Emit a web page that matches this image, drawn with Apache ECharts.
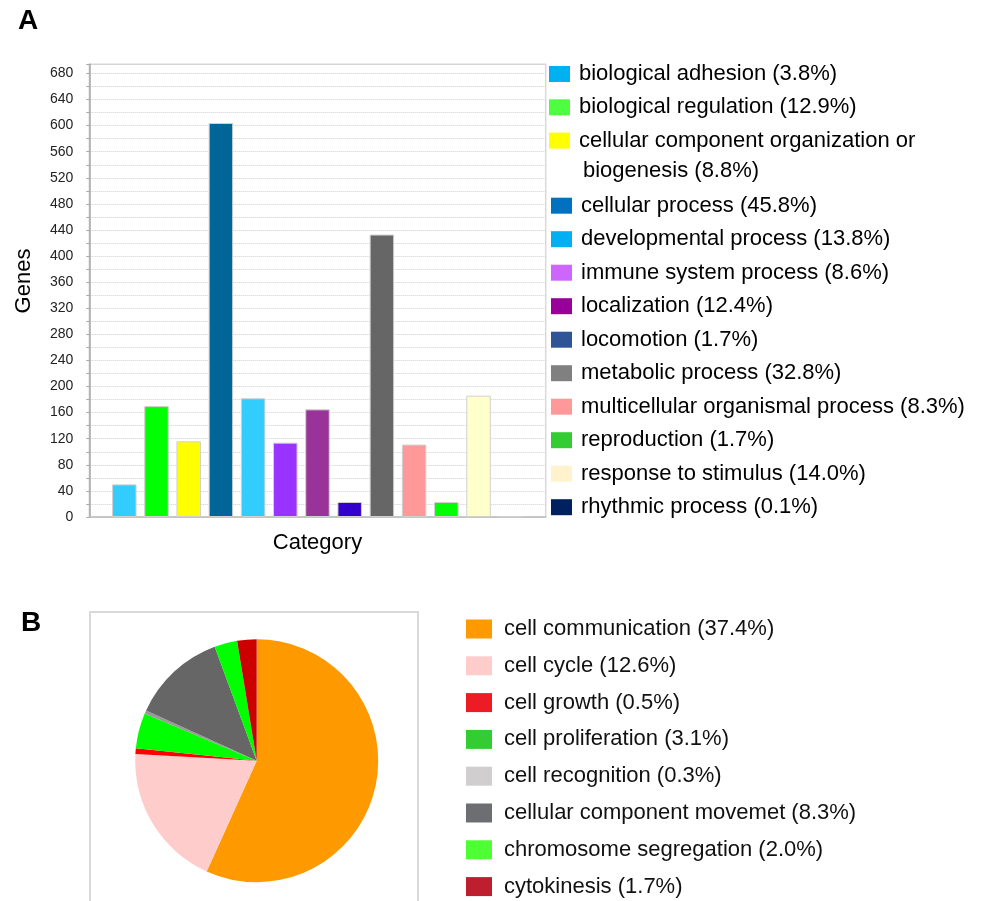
<!DOCTYPE html>
<html>
<head>
<meta charset="utf-8">
<script src="https://cdn.jsdelivr.net/npm/echarts/dist/echarts.min.js"></script>
<style>
html,body{margin:0;padding:0;background:#fff;}
#chart{width:982px;height:901px;}
</style>
</head>
<body>
<div id="chart"></div>
<script>
// ---------- Panel A data (biological process) ----------
const bpCategories = [
  'biological adhesion',
  'biological regulation',
  'cellular component organization or biogenesis',
  'cellular process',
  'developmental process',
  'immune system process',
  'localization',
  'locomotion',
  'metabolic process',
  'multicellular organismal process',
  'reproduction',
  'response to stimulus',
  'rhythmic process'
];
const bpGenes = [50, 170, 116, 604, 182, 114, 165, 23, 433, 111, 23, 186, 1];
const bpPercent = [3.8, 12.9, 8.8, 45.8, 13.8, 8.6, 12.4, 1.7, 32.8, 8.3, 1.7, 14.0, 0.1];
const bpBarColors = ['#33CCFF', '#00FF00', '#FFFF00', '#006699', '#33CCFF', '#9933FF', '#993399',
                     '#3300CC', '#666666', '#FF9999', '#00FF00', '#FFFFCC', '#A6A6A6'];
const bpLegendColors = ['#00B0F0', '#4DFF3F', '#FFFF00', '#0070C0', '#00B0F0', '#CC66FF', '#990099',
                        '#2F5597', '#808080', '#FF9999', '#33CC33', '#FFF2CC', '#002060'];
const yTickLabels = [0, 40, 80, 120, 160, 200, 240, 280, 320, 360, 400, 440, 480, 520, 560, 600, 640, 680];

// ---------- Panel B data (cellular process subcategories) ----------
const ccCategories = [
  'cell communication',
  'cell cycle',
  'cell growth',
  'cell proliferation',
  'cell recognition',
  'cellular component movemet',
  'chromosome segregation',
  'cytokinesis'
];
const ccPercent = [37.4, 12.6, 0.5, 3.1, 0.3, 8.3, 2.0, 1.7];
const ccSliceColors = ['#FF9900', '#FFCCCC', '#FF0000', '#00FF00', '#999999', '#666666', '#00FF00', '#CC0000'];
const ccLegendColors = ['#FF9900', '#FFCCCC', '#ED1C24', '#33CC33', '#D0CECE', '#6D6E71', '#4DFF33', '#BE1E2D'];

// ---------- build ----------
const FONT = '"Liberation Sans", Arial, Helvetica, sans-serif';
const wrapName = 'cellular component organization or biogenesis';

function bpLabel(name) {
  const i = bpCategories.indexOf(name);
  if (name === wrapName) return 'cellular component organization or';
  return name + ' (' + bpPercent[i].toFixed(1) + '%)';
}
function ccLabel(name) {
  const i = ccCategories.indexOf(name);
  return name + ' (' + ccPercent[i].toFixed(1) + '%)';
}

const legendText = {fontFamily: FONT, fontSize: 22, lineHeight: 22, color: '#000', padding: [0, 0, 0, 4]};

const barSeries = bpCategories.map((name, i) => ({
  name: name,
  type: 'bar',
  xAxisIndex: 1,
  yAxisIndex: 1,
  barWidth: 24.5,
  barGap: '-100%',
  data: bpGenes.map((v, j) => (j === i ? v : null)),
  itemStyle: {color: bpBarColors[i], borderColor: '#D0D0D0', borderWidth: 1},
  emphasis: {disabled: true},
  animation: false
}));

const pieSeries = {
  type: 'pie',
  center: [256.7, 760.7],
  radius: 121.5,
  startAngle: 90,
  clockwise: true,
  label: {show: false},
  labelLine: {show: false},
  emphasis: {disabled: true},
  animation: false,
  itemStyle: {borderWidth: 0},
  data: ccCategories.map((n, i) => ({name: n, value: ccPercent[i], itemStyle: {color: ccSliceColors[i]}}))
};

const option = {
  backgroundColor: '#fff',
  animation: false,
  textStyle: {fontFamily: FONT},
  grid: [
    {left: 89.3, right: 982 - 545.7, top: 64.3, bottom: 901 - 517, show: true,
     borderColor: '#D9D9D9', borderWidth: 1.5, backgroundColor: 'transparent', outerBoundsMode: 'none', containLabel: false},
    {left: 108.2, right: 982 - 526.8, top: 64.3, bottom: 901 - 517, outerBoundsMode: 'none', containLabel: false}
  ],
  xAxis: [
    {gridIndex: 0, type: 'value', min: 0, max: 1,
     axisLine: {show: true, lineStyle: {color: '#BFBFBF', width: 1.5}},
     axisTick: {show: false}, axisLabel: {show: false}, splitLine: {show: false},
     name: 'Category', nameLocation: 'middle', nameGap: 15,
     nameTextStyle: {fontFamily: FONT, fontSize: 22, color: '#000'}},
    {gridIndex: 1, type: 'category', data: bpCategories,
     axisLine: {show: false}, axisTick: {show: false}, axisLabel: {show: false}, splitLine: {show: false}}
  ],
  yAxis: [
    {gridIndex: 0, type: 'value', min: 0, max: 694, interval: 20,
     axisLine: {show: true, lineStyle: {color: '#A6A6A6', width: 1.5}},
     axisTick: {show: true, length: 3, lineStyle: {color: '#A6A6A6'}},
     axisLabel: {margin: 16, fontFamily: FONT, fontSize: 14, color: '#222',
                 formatter: v => (yTickLabels.indexOf(v) >= 0 ? String(v) : '')},
     splitLine: {show: true, lineStyle: {color: '#D0D0D0', type: 'dotted', width: 1}}},
    {gridIndex: 1, type: 'value', min: 0, max: 694, interval: 20, show: false,
     splitLine: {show: false}}
  ],
  legend: [
    {orient: 'vertical', left: 549, top: 63, padding: 0, itemGap: 11.3,
     itemWidth: 21, itemHeight: 16, icon: 'rect', selectedMode: false,
     textStyle: legendText, formatter: bpLabel,
     data: bpCategories.slice(0, 3).map((n, k) => ({name: n, icon: 'rect', itemStyle: {color: bpLegendColors[k], borderWidth: 0}}))},
    {orient: 'vertical', left: 551, top: 194.7, padding: 0, itemGap: 11.5,
     itemWidth: 21, itemHeight: 16, icon: 'rect', selectedMode: false,
     textStyle: legendText, formatter: bpLabel,
     data: bpCategories.slice(3).map((n, k) => ({name: n, icon: 'rect', itemStyle: {color: bpLegendColors[k + 3], borderWidth: 0}}))},
    {orient: 'vertical', left: 466, top: 618, padding: 0, itemGap: 14.8,
     itemWidth: 26, itemHeight: 19, icon: 'rect', selectedMode: false,
     textStyle: {fontFamily: FONT, fontSize: 22, lineHeight: 22, color: '#111', padding: [0, 0, 0, 7]},
     formatter: ccLabel,
     data: ccCategories.map((n, k) => ({name: n, icon: 'rect', itemStyle: {color: ccLegendColors[k], borderWidth: 0}}))}
  ],
  graphic: [
    {type: 'text', x: 18, y: 21, style: {text: 'A', font: 'bold 28px ' + FONT, fill: '#000',
      textAlign: 'left', textVerticalAlign: 'middle', align: 'left', verticalAlign: 'middle'}},
    {type: 'text', x: 21, y: 623, style: {text: 'B', font: 'bold 28px ' + FONT, fill: '#000',
      textAlign: 'left', textVerticalAlign: 'middle', align: 'left', verticalAlign: 'middle'}},
    {type: 'text', x: 24, y: 281, rotation: Math.PI / 2, style: {text: 'Genes', font: '22px ' + FONT, fill: '#000',
      textAlign: 'center', textVerticalAlign: 'middle', align: 'center', verticalAlign: 'middle'}},
    {type: 'text', x: 583, y: 171, style: {text: 'biogenesis (' + bpPercent[2].toFixed(1) + '%)', font: '22px ' + FONT, fill: '#000',
      textAlign: 'left', textVerticalAlign: 'middle', align: 'left', verticalAlign: 'middle'}},
    {type: 'rect', shape: {x: 90, y: 612, width: 328, height: 330}, z: -1,
     style: {fill: 'none', stroke: '#D9D9D9', lineWidth: 2}}
  ],
  series: barSeries.concat([pieSeries])
};

const chart = echarts.init(document.getElementById('chart'), null, {renderer: 'canvas'});
chart.setOption(option);
</script>
</body>
</html>
